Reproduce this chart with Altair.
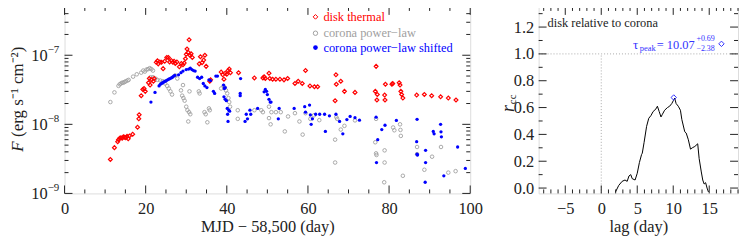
import altair as alt
import pandas as pd

# ---------------- data ----------------
disk_day = [11.3, 12.3, 13.1, 13.3, 13.6, 13.9, 14.2, 14.5, 14.8, 15.1, 15.4, 15.7, 16.0, 16.8, 18.0, 18.3, 18.4,
            18.9, 19.3, 19.6, 19.9, 20.7, 20.9, 21.1, 21.4, 21.9, 22.1, 22.6, 22.9, 23.1, 23.5, 23.9, 24.3, 24.7,
            25.2, 25.6, 25.9, 26.3, 26.7, 27.0, 27.3, 27.7, 28.3, 28.8, 29.2, 29.5, 29.8, 30.0, 30.2, 30.5, 30.7,
            30.9, 31.2, 31.5, 33.2, 33.5, 33.9, 34.3, 34.6, 34.9, 35.8, 36.0, 38.6, 39.0, 39.3, 39.6, 40.0, 40.3,
            40.6, 40.9, 42.9, 46.8, 48.9, 49.2, 49.5, 50.4, 50.6, 51.3, 52.1, 53.1, 54.1, 55.0, 56.8, 57.6, 58.6,
            59.4, 60.5, 61.6, 62.4, 66.7, 66.9, 67.0, 68.1, 69.0, 71.6, 76.6, 76.8, 77.0, 77.1, 78.9, 79.0, 79.1,
            80.7, 80.9, 82.5, 82.7, 82.9, 83.1, 83.4, 86.8, 88.7, 90.5, 92.7, 94.6, 96.5]
disk_flux = [3.1e-9, 4.6e-9, 5.6e-9, 6.0e-9, 6.3e-9, 6.4e-9, 6.3e-9, 6.6e-9, 6.5e-9, 6.4e-9, 6.7e-9, 6.2e-9, 6.8e-9,
             7.2e-9, 9.1e-9, 1.2e-8, 1.38e-8, 2.6e-8, 3.2e-8, 3.3e-8, 3.0e-8, 4.0e-8, 4.6e-8, 3.7e-8, 4.4e-8, 4.2e-8,
             4.6e-8, 7.9e-8, 8.3e-8, 7.5e-8, 8.0e-8, 7.9e-8, 6.4e-8, 8.2e-8, 9.3e-8, 9.3e-8, 8.0e-8, 8.4e-8, 7.9e-8,
             8.2e-8, 7.6e-8, 8.0e-8, 6.8e-8, 7.6e-8, 7.3e-8, 7.7e-8, 8.9e-8, 1.03e-7, 1.23e-7, 1.1e-7, 1.67e-7,
             1.0e-7, 1.05e-7, 9.3e-8, 7.5e-8, 9.5e-8, 7.8e-8, 8.5e-8, 1.0e-7, 6.9e-8, 4.2e-8, 4.4e-8, 5.7e-8,
             5.2e-8, 4.5e-8, 5.5e-8, 5.3e-8, 6.0e-8, 6.3e-8, 5.6e-8, 5.6e-8, 4.7e-8, 4.7e-8, 4.9e-8, 4.6e-8,
             5.5e-8, 4.6e-8, 4.5e-8, 4.5e-8, 4.5e-8, 4.4e-8, 4.6e-8, 3.9e-8, 4.2e-8, 3.9e-8, 6.0e-8, 3.6e-8,
             3.5e-8, 3.5e-8, 2.2e-8, 5.2e-8, 3.8e-8, 4.2e-8, 3.0e-8, 2.9e-8, 3.0e-8, 6.9e-8, 2.25e-8, 2.7e-8,
             2.65e-8, 2.25e-8, 3.8e-8, 3.8e-8, 3.9e-8, 4.0e-8, 3.7e-8, 3.0e-8, 2.7e-8, 2.4e-8, 2.65e-8, 2.7e-8,
             2.6e-8, 2.5e-8, 2.4e-8, 2.25e-8]

cor_day = [11.3, 12.3, 13.3, 13.6, 13.9, 14.2, 14.5, 14.8, 15.1, 15.5, 15.8, 16.9, 17.8, 18.9, 19.4, 19.8, 20.2,
           20.6, 21.0, 21.4, 21.8, 21.2, 21.8, 22.4, 22.9, 23.6, 24.2, 24.8, 25.3, 25.7, 26.1, 26.5, 27.3, 27.8,
           28.7, 29.0, 29.2, 29.3, 29.6, 30.0, 30.3, 30.5, 30.7, 31.0, 30.8, 33.1, 33.3, 34.5, 34.8, 35.2, 35.6,
           35.8, 38.6, 39.2, 39.5, 39.8, 40.1, 40.4, 40.6, 40.8, 42.7, 42.7, 46.8, 48.5, 48.9, 50.4, 50.4, 50.8,
           51.0, 52.1, 53.3, 54.3, 55.1, 56.8, 57.9, 58.7, 59.4, 60.6, 61.5, 62.8, 66.7, 66.7, 67.0, 67.2, 68.1,
           69.0, 71.6, 76.6, 76.8, 76.9, 76.8, 78.9, 78.9, 78.8, 81.0, 81.3, 82.7, 82.8, 82.9, 83.4, 86.9, 86.9,
           88.7, 90.6, 92.8, 94.6, 96.4]
cor_flux = [2.1e-8, 2.9e-8, 3.6e-8, 3.8e-8, 3.9e-8, 4.0e-8, 4.0e-8, 4.1e-8, 4.2e-8, 4.3e-8, 4.4e-8, 4.9e-8, 5.3e-8,
            5.6e-8, 6.0e-8, 5.8e-8, 6.2e-8, 6.3e-8, 6.5e-8, 6.3e-8, 6.0e-8, 4.8e-8, 4.8e-8, 4.6e-8, 4.4e-8, 4.3e-8,
            4.2e-8, 3.9e-8, 3.6e-8, 3.3e-8, 3.0e-8, 2.7e-8, 5.1e-8, 4.6e-8, 3.1e-8, 2.6e-8, 3.7e-8, 2.4e-8, 2.2e-8,
            1.8e-8, 1.6e-8, 1.1e-8, 1.5e-8, 1.4e-8, 3.0e-8, 3.0e-8, 2.8e-8, 1.5e-8, 1.4e-8, 1.07e-8, 1.7e-8,
            1.6e-8, 3.3e-8, 3.6e-8, 3.4e-8, 3.1e-8, 2.8e-8, 2.4e-8, 2.1e-8, 1.8e-8, 1.6e-8, 1.2e-8, 1.6e-8, 1.6e-8,
            1.5e-8, 1.8e-8, 1.23e-8, 1.0e-8, 1.5e-8, 1.5e-8, 1.5e-8, 7.9e-9, 1.3e-8, 1.45e-8, 1.1e-8, 7.1e-9,
            1.45e-8, 1.2e-8, 1.35e-8, 1.15e-8, 6.0e-9, 2.8e-9, 1.27e-8, 1.2e-8, 8.4e-9, 9.5e-9, 1.14e-8, 5.5e-9,
            3.8e-9, 3.6e-9, 1.2e-8, 4.2e-9, 2.8e-9, 1.45e-9, 9.0e-9, 8.2e-9, 1.0e-8, 8.3e-9, 6.8e-9, 1.8e-9,
            4.7e-9, 3.7e-9, 2.2e-9, 3.4e-9, 4.7e-9, 2.0e-9, 2.1e-9]

shift_day = [21.3, 22.3, 23.3, 23.6, 23.9, 24.2, 24.5, 24.8, 25.1, 25.4, 25.7, 26.0, 26.3, 26.6, 26.9, 27.2, 28.1,
             28.7, 29.2, 30.0, 30.6, 31.0, 31.4, 31.8, 32.2, 32.8, 33.3, 33.8, 34.2, 34.6, 35.1, 35.6, 36.0, 36.7,
             37.0, 37.3, 37.7, 39.2, 39.4, 39.6, 39.3, 39.6, 39.9, 40.1, 40.2, 40.3, 40.5, 40.7, 43.3, 43.4, 43.3,
             44.5, 44.8, 45.1, 45.7, 45.9, 47.6, 49.2, 49.5, 49.8, 50.0, 50.4, 50.7, 50.9, 52.7, 52.9, 56.6, 59.2,
             59.4, 60.4, 60.6, 60.8, 61.1, 61.9, 62.9, 64.1, 64.3, 65.3, 66.9, 67.8, 68.6, 69.6, 70.4, 71.6, 72.7,
             76.8, 76.9, 77.2, 78.2, 79.0, 81.8, 86.8, 86.9, 87.0, 86.9, 89.0, 89.0, 88.9, 90.9, 91.1, 92.7, 92.8,
             92.9, 93.5, 96.9, 98.8]
shift_flux = [2.1e-8, 2.9e-8, 3.6e-8, 3.8e-8, 3.9e-8, 4.0e-8, 4.1e-8, 4.2e-8, 4.3e-8, 4.4e-8, 4.5e-8, 4.6e-8, 4.7e-8,
              4.8e-8, 5.0e-8, 5.1e-8, 5.2e-8, 5.6e-8, 5.9e-8, 6.2e-8, 6.3e-8, 6.5e-8, 6.2e-8, 6.0e-8, 5.9e-8, 4.8e-8,
              4.6e-8, 4.8e-8, 3.9e-8, 3.6e-8, 3.4e-8, 4.4e-8, 4.3e-8, 3.0e-8, 2.8e-8, 5.0e-8, 5.0e-8, 3.7e-8, 3.3e-8,
              3.4e-8, 2.5e-8, 2.3e-8, 2.2e-8, 1.7e-8, 1.4e-8, 1.1e-8, 1.6e-8, 1.55e-8, 2.8e-8, 4.6e-8, 2.6e-8,
              1.1e-8, 1.4e-8, 1.2e-8, 1.6e-8, 1.4e-8, 1.7e-8, 2.95e-8, 3.2e-8, 3.0e-8, 2.7e-8, 2.3e-8, 2.1e-8,
              2.1e-8, 1.2e-8, 1.7e-8, 1.7e-8, 1.8e-8, 1.5e-8, 1.9e-8, 1.37e-8, 1.0e-8, 1.2e-8, 1.4e-8, 1.4e-8,
              1.4e-8, 7.9e-9, 1.33e-8, 1.4e-8, 1.1e-8, 7.3e-9, 1.17e-8, 1.3e-8, 1.25e-8, 1.15e-8, 1.27e-8, 2.8e-9,
              6.0e-9, 8.4e-9, 9.7e-9, 1.14e-8, 5.6e-9, 3.7e-9, 3.6e-9, 1.18e-8, 4.2e-9, 2.8e-9, 1.45e-9, 7.9e-9,
              7.3e-9, 1.0e-8, 7.8e-9, 6.6e-9, 1.8e-9, 4.7e-9, 2.3e-9]

ccf_lag = [1.97, 2.43, 2.9, 3.3, 3.6, 3.85, 4.1, 4.3, 4.7, 5.0, 5.3, 5.6, 5.7, 5.95, 6.3, 6.6, 6.9, 7.2, 7.6, 7.8,
           8.05, 8.3, 8.5, 8.8, 9.2, 9.5, 9.8, 10.0, 10.2, 10.4, 10.7, 11.0, 11.2, 11.6, 11.8, 12.1, 12.4, 12.65,
           13.0, 13.4, 13.6, 13.9, 14.1, 14.3, 14.5, 14.7, 14.9]
ccf_r = [-0.03, 0.02, 0.05, 0.06, 0.05, 0.09, 0.10, 0.07, 0.06, 0.11, 0.19, 0.25, 0.26, 0.34, 0.46, 0.52, 0.54,
         0.57, 0.59, 0.61, 0.57, 0.53, 0.55, 0.58, 0.60, 0.61, 0.63, 0.65, 0.67, 0.63, 0.61, 0.58, 0.51, 0.42,
         0.41, 0.36, 0.29, 0.30, 0.31, 0.33, 0.22, 0.12, 0.06, 0.03, 0.04, 0.00, -0.03]

tau_peak = 10.07
r_peak = 0.675

legend_labels = ["disk thermal", "corona power\u2212law", "corona power\u2212law shifted"]
legend_colors = ["#ff0000", "#a0a0a0", "#0000ff"]

x1_major = [0, 20, 40, 60, 80, 100]
x1_minor = [v for v in range(0, 101, 5) if v % 20]
y1_major = [1e-9, 1e-8, 1e-7]
y1_exp = ["\u22129", "\u22128", "\u22127"]
y1_minor = [m * d for d in [1e-9, 1e-8, 1e-7] for m in range(2, 10) if m * d <= 5e-7]
x2_major = [-5, 0, 5, 10, 15]
x2_minor = [v for v in range(-8, 20) if v % 5]
y2_major = [0.0, 0.2, 0.4, 0.6, 0.8, 1.0, 1.2]
y2_minor = [0.1, 0.3, 0.5, 0.7, 0.9, 1.1, 1.3]

# ---------------- styling ----------------
FONT = "Liberation Serif"
INK = "#222222"
W1, H1 = 409, 188
W2, H2 = 201, 188
FS = 16.5

xs1 = alt.Scale(domain=[0, 100], nice=False, zero=False)
ys1 = alt.Scale(type="log", domain=[1e-9, 5e-7], nice=False)
xs2 = alt.Scale(domain=[-8.7, 19], nice=False, zero=False)
ys2 = alt.Scale(domain=[-0.04, 1.35], nice=False, zero=False)

ax_x1 = alt.Axis(values=x1_major, ticks=False, domain=False, grid=False, labelFlush=False,
                 labelFont=FONT, labelFontSize=FS, labelColor=INK, labelPadding=7,
                 title="MJD \u2212 58,500 (day)", titleFont=FONT, titleFontSize=FS,
                 titleFontWeight="normal", titleColor=INK, titlePadding=2)
ax_x2 = alt.Axis(values=x2_major, ticks=False, domain=False, grid=False, labelFlush=False,
                 labelExpr="replace(datum.label, '-', '\u2212')",
                 labelFont=FONT, labelFontSize=FS, labelColor=INK, labelPadding=7,
                 title="lag (day)", titleFont=FONT, titleFontSize=FS,
                 titleFontWeight="normal", titleColor=INK, titlePadding=2)
ax_y2 = alt.Axis(values=y2_major, format=".1f", ticks=False, domain=False, grid=False,
                 labelFont=FONT, labelFontSize=FS, labelColor=INK, labelPadding=5, title=None)

X1 = lambda: alt.X("day:Q", scale=xs1, axis=ax_x1)
Y1 = lambda: alt.Y("flux:Q", scale=ys1, axis=None)
X2 = lambda: alt.X("lag:Q", scale=xs2, axis=ax_x2)
Y2 = lambda: alt.Y("r:Q", scale=ys2, axis=ax_y2)


def one(d):
    return alt.Chart(pd.DataFrame(d))


# ---------------- left panel ----------------
disk = pd.DataFrame({"day": disk_day, "flux": disk_flux})
cor = pd.DataFrame({"day": cor_day, "flux": cor_flux})
shift = pd.DataFrame({"day": shift_day, "flux": shift_flux})

p_cor = alt.Chart(cor).mark_point(shape="circle", filled=False, color=legend_colors[1], size=13,
                                  strokeWidth=0.9, opacity=1).encode(x=X1(), y=Y1())
p_disk = alt.Chart(disk).mark_point(shape="diamond", filled=False, color=legend_colors[0], size=15,
                                    strokeWidth=1.2, opacity=1).encode(x=X1(), y=Y1())
p_shift = alt.Chart(shift).mark_point(shape="circle", filled=True, color=legend_colors[2], size=11,
                                      opacity=1).encode(x=X1(), y=Y1())

left_layers = [p_cor, p_disk, p_shift]

# tick marks (inward)
for vals, ln in [(x1_major, 8), (x1_minor, 4)]:
    b = alt.Chart(pd.DataFrame({"day": vals}))
    left_layers.append(b.mark_rule(color=INK, strokeWidth=1).encode(x=X1(), y=alt.value(H1), y2=alt.value(H1 - ln)))
    left_layers.append(b.mark_rule(color=INK, strokeWidth=1).encode(x=X1(), y=alt.value(0), y2=alt.value(ln)))
for vals, ln in [(y1_major, 8), (y1_minor, 4)]:
    b = alt.Chart(pd.DataFrame({"flux": vals}))
    left_layers.append(b.mark_rule(color=INK, strokeWidth=1).encode(y=Y1(), x=alt.value(0), x2=alt.value(ln)))
    left_layers.append(b.mark_rule(color=INK, strokeWidth=1).encode(y=Y1(), x=alt.value(W1), x2=alt.value(W1 - ln)))

# y tick labels 10^n
ylab = pd.DataFrame({"flux": y1_major, "base": ["10"] * 3, "exp": y1_exp})
left_layers.append(alt.Chart(ylab).mark_text(font=FONT, fontSize=FS, color=INK, align="right", baseline="middle",
                                             dy=1).encode(y=Y1(), x=alt.value(-17), text="base:N"))
left_layers.append(alt.Chart(ylab).mark_text(font=FONT, fontSize=11, color=INK, align="left", baseline="middle",
                                             dy=-5).encode(y=Y1(), x=alt.value(-17), text="exp:N"))

# y title (rotated)
left_layers.append(one({"t": ["F"]}).mark_text(font=FONT, fontSize=17, fontStyle="italic", color=INK, angle=270,
                                                align="left", baseline="middle").encode(
    text="t:N", x=alt.value(-47), y=alt.value(146)))
left_layers.append(one({"t": ["(erg s\u207b\u00b9 cm\u207b\u00b2)"]}).mark_text(
    font=FONT, fontSize=17, color=INK, angle=270, align="left", baseline="middle", dx=15).encode(
    text="t:N", x=alt.value(-47), y=alt.value(146)))

# legend
leg_y = [10, 26.5, 41]
leg_shapes = [("diamond", False, 22), ("circle", False, 20), ("circle", True, 22)]
for lab, col, ly, (shp, fil, sz) in zip(legend_labels, legend_colors, leg_y, leg_shapes):
    b = one({"t": [lab]})
    left_layers.append(b.mark_point(shape=shp, filled=fil, color=col, size=sz, strokeWidth=1, opacity=1).encode(
        x=alt.value(253), y=alt.value(ly)))
    left_layers.append(b.mark_text(font=FONT, fontSize=12.5, color=col, align="left", baseline="middle").encode(
        text="t:N", x=alt.value(261), y=alt.value(ly)))

left = alt.layer(*left_layers).properties(width=W1, height=H1)

# ---------------- right panel ----------------
ccf = pd.DataFrame({"lag": ccf_lag, "r": ccf_r})
right_layers = []
right_layers.append(one({"r": [1.0]}).mark_rule(color="#aaaaaa", strokeDash=[1, 2], strokeWidth=1).encode(
    y=Y2(), x=alt.value(0), x2=alt.value(W2)))
right_layers.append(one({"lag": [0.0], "r": [-0.04], "r2": [1.0]}).mark_rule(
    color="#aaaaaa", strokeDash=[1, 2], strokeWidth=1).encode(x=X2(), y=Y2(), y2="r2:Q"))
right_layers.append(alt.Chart(ccf).mark_line(color="#000000", strokeWidth=1).encode(x=X2(), y=Y2()))
right_layers.append(one({"lag": [tau_peak], "r": [r_peak]}).mark_point(
    shape="diamond", filled=False, color="#3333ff", size=30, strokeWidth=1, opacity=1).encode(x=X2(), y=Y2()))

for vals, ln in [(x2_major, 8), (x2_minor, 4)]:
    b = alt.Chart(pd.DataFrame({"lag": vals}))
    right_layers.append(b.mark_rule(color=INK, strokeWidth=1).encode(x=X2(), y=alt.value(H2), y2=alt.value(H2 - ln)))
    right_layers.append(b.mark_rule(color=INK, strokeWidth=1).encode(x=X2(), y=alt.value(0), y2=alt.value(ln)))
for vals, ln in [(y2_major, 8), (y2_minor, 4)]:
    b = alt.Chart(pd.DataFrame({"r": vals}))
    right_layers.append(b.mark_rule(color=INK, strokeWidth=1).encode(y=Y2(), x=alt.value(0), x2=alt.value(ln)))
    right_layers.append(b.mark_rule(color=INK, strokeWidth=1).encode(y=Y2(), x=alt.value(W2), x2=alt.value(W2 - ln)))

right_layers.append(one({"t": ["disk relative to corona"]}).mark_text(
    font=FONT, fontSize=12.5, color=INK, align="left", baseline="middle").encode(
    text="t:N", x=alt.value(9), y=alt.value(16)))

# tau annotation, anchored in data space
TB = "#3333ff"
tau_pieces = [("\u03c4", 13, 0, 1), ("peak", 8.5, 7, 4), ("= 10.07", 12.5, 24, 1),
              ("+0.69", 8, 64, -5), ("\u22122.38", 8, 64, 5)]
for txt, fs, dx, dy in tau_pieces:
    right_layers.append(one({"lag": [4.4], "r": [1.075], "t": [txt]}).mark_text(
        font=FONT, fontSize=fs, color=TB, align="left", baseline="middle", dx=dx, dy=dy).encode(
        x=X2(), y=Y2(), text="t:N"))
right_layers.append(one({"lag": [16.7], "r": [1.075]}).mark_point(
    shape="diamond", filled=False, color=TB, size=30, strokeWidth=1, opacity=1).encode(x=X2(), y=Y2()))

# r_cc title
right_layers.append(one({"t": ["r"]}).mark_text(font=FONT, fontSize=18, fontStyle="italic", color=INK, angle=270,
                                                 align="left", baseline="middle").encode(
    text="t:N", x=alt.value(-30), y=alt.value(106)))
right_layers.append(one({"t": ["cc"]}).mark_text(font=FONT, fontSize=11, color=INK, angle=270,
                                                  align="left", baseline="middle", dx=8, dy=4).encode(
    text="t:N", x=alt.value(-30), y=alt.value(106)))

right = alt.layer(*right_layers).properties(width=W2, height=H2)

chart = alt.hconcat(left, right, spacing=16).properties(
    padding={"left": 0, "top": -3, "right": 0, "bottom": 0}
).configure_view(stroke=INK, strokeWidth=1).configure(background="white")

chart.save("out.html", embed_options={"renderer": "svg", "actions": False})
